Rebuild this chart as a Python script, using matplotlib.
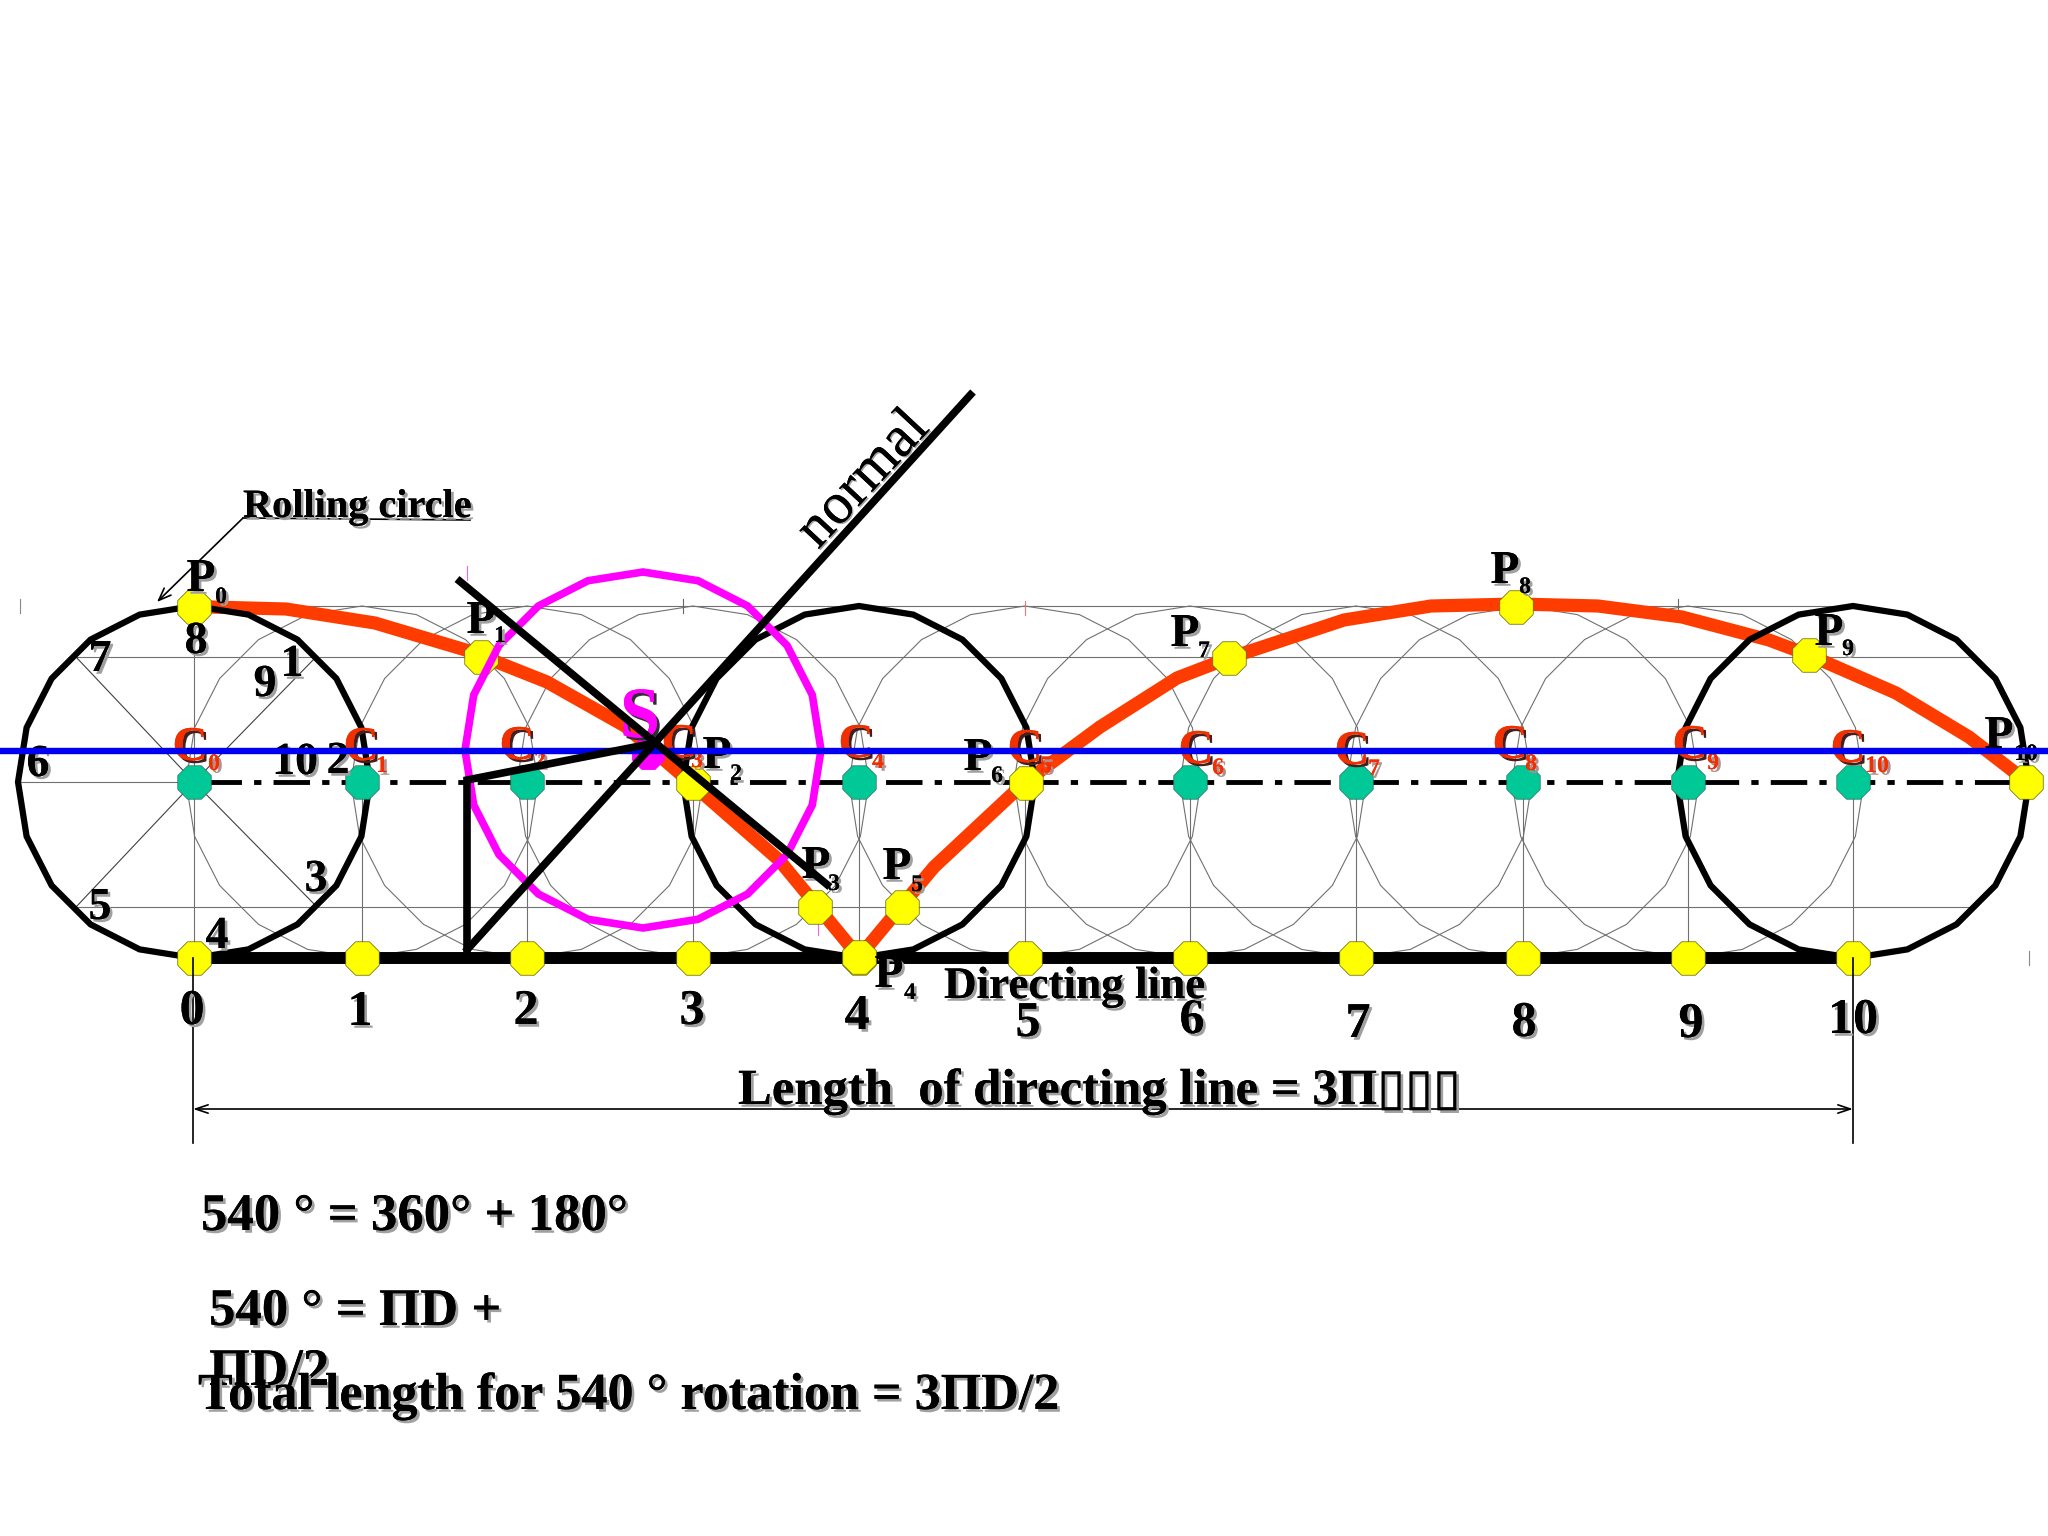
import matplotlib
matplotlib.use("Agg")
import matplotlib.pyplot as plt
from matplotlib.patches import RegularPolygon
import matplotlib.patheffects as pe

plt.rcParams['font.family'] = ['Liberation Serif', 'DejaVu Sans']

# positions along the directing line, page units
stations = [194, 362, 527, 693, 859, 1025, 1190, 1356, 1523, 1688, 1853]
centre_y = 782
line_y = 958
top_y = 606
radius = 176
bold_circles = [0, 4, 10]
green_dots = [0, 1, 2, 4, 6, 7, 8, 9, 10]

# the traced curve
curve_x = [210, 286, 375, 469, 547, 625, 691, 779, 859, 934, 1024, 1100, 1177, 1229,
           1344, 1431, 1517, 1598, 1682, 1769, 1809, 1896, 1969, 2026]
curve_y = [607, 609, 623, 651, 682, 726, 783, 860, 957, 867, 783, 727, 678, 658,
           620, 606, 604, 606, 617, 640, 655, 693, 737, 781]

# P0..P10
p_x = [194, 481, 693, 815, 859, 902, 1026, 1229, 1516, 1809, 2026]
p_y = [607, 657, 783, 907, 957, 907, 783, 658, 607, 655, 782]
p_label_x = [201, 481, 717, 816, 889, 897, 978, 1185, 1505, 1829, 1999]
p_label_y = [591, 633, 768, 878, 987, 879, 770, 646, 583, 645, 748]
p_sub_x = [221, 500, 736, 834, 910, 917, 997, 1204, 1525, 1848, 2026]
p_sub_y = [603, 642, 780, 890, 999, 891, 782, 657, 593, 655, 760]

# C0..C10
c_label_x = [190, 361, 517, 679, 856, 1025, 1196, 1352, 1510, 1690, 1848]
c_label_y = [760, 760, 759, 757, 757, 762, 763, 764, 758, 758, 762]
c_sub_x = [214, 382, 540, 697, 878, 1046, 1218, 1374, 1531, 1713, 1877]
c_sub_y = [770, 772, 767, 767, 768, 772, 774, 775, 770, 769, 772]

# numbers under the directing line
under_x = [192, 360, 526, 692, 857, 1028, 1192, 1358, 1524, 1691, 1853]
under_y = [1024, 1025, 1024, 1024, 1029, 1036, 1033, 1037, 1036, 1037, 1033]

# numbers round the first circle
ring_labels = ['8', '7', '1', '9', '6', '10', '2', '3', '5', '4']
ring_x = [196, 100, 292, 265, 38, 295, 338, 316, 100, 217]
ring_y = [653, 671, 676, 696, 776, 774, 773, 891, 919, 948]

# spoke ends on the first circle
spoke_x = [76, 316, 76, 317]
spoke_y = [657, 657, 907, 907]

# second position of the circle and construction lines
magenta_centre = (643, 750)
blue_y = 751
normal_x = [465, 973]
normal_y = [952, 392]
tangent_x = [457, 830]
tangent_y = [579, 887]
offset_x = [467, 467, 655]
offset_y = [952, 780, 743]

# small stray ticks
tick_x = [20, 467, 683, 1025, 1678, 2029, 818]
tick_y = [606, 573, 606, 608, 606, 958, 928]
tick_colors = ['#888888', '#ee66ee', '#666666', '#ee7777', '#666666', '#888888', '#ee66ee']


def label(ax, x, y, s, size=36, color='black', ha='left', shadow='#a0a0a0', z=6, **kw):
    # soft shadow below right, as on the slide
    fx = [pe.withSimplePatchShadow(offset=(2, -2), shadow_rgbFace=shadow, alpha=1.0), pe.Normal()]
    ax.text(x, y, s, fontsize=size, color=color, ha=ha, va='baseline', fontweight='bold',
            path_effects=fx, zorder=z, **kw)


fig = plt.figure(figsize=(20.48, 15.36), dpi=100)
ax = fig.add_axes([0, 0, 1, 1])
ax.set_xlim(0, 2048)
ax.set_ylim(1536, 0)
ax.axis('off')

thin = dict(color='#707070', lw=0.8, zorder=1)
ax.plot([stations[0], stations[-1]], [top_y, top_y], **thin)
ax.plot([76, 1969], [657, 657], **thin)
ax.plot([76, 1969], [907, 907], **thin)
ax.plot([19, stations[0]], [centre_y, centre_y], **thin)
ax.plot([stations[0], stations[0]], [top_y, centre_y], **thin)
for sx in stations:
    ax.plot([sx, sx], [centre_y, line_y], **thin)
for ex, ey in zip(spoke_x, spoke_y):
    ax.plot([stations[0], ex], [centre_y, ey], color='#404040', lw=0.8, zorder=1)

for i, sx in enumerate(stations):
    if i not in bold_circles:
        ax.add_patch(RegularPolygon((sx, centre_y), 20, radius=radius, fill=False,
                                    edgecolor='#707070', lw=0.8, zorder=1))

# centre line and directing line
ax.plot([205, 2030], [centre_y, centre_y], color='black', lw=3.5,
        linestyle=(0, (7.5, 2.5, 1.5, 2.5)), zorder=2)
ax.plot([stations[0], stations[-1]], [line_y, line_y], color='black', lw=8.6,
        solid_capstyle='butt', zorder=2)

ax.plot(curve_x, curve_y, color='#ff3c00', lw=9.5, solid_joinstyle='miter', zorder=3)

for i in bold_circles:
    ax.add_patch(RegularPolygon((stations[i], centre_y), 20, radius=radius, fill=False,
                                edgecolor='black', lw=4.5, zorder=3.5))

ax.scatter([stations[i] for i in green_dots], [centre_y] * len(green_dots), s=680, marker='8',
           color='#00c896', edgecolors='#307060', linewidths=0.5, zorder=4)
ax.scatter(stations, [line_y] * len(stations), s=680, marker='8',
           color='#ffff00', edgecolors='#606000', linewidths=0.5, zorder=4)
ax.scatter(p_x, p_y, s=680, marker='8', color='#ffff00', edgecolors='#606000',
           linewidths=0.5, zorder=4)

# circle at the point S
ax.add_patch(RegularPolygon(magenta_centre, 20, radius=178, fill=False,
                            edgecolor='#ff00ff', lw=5.5, zorder=5))
ax.scatter([648], [753], s=600, marker='8', color='#ff00ff', zorder=4.5)

# labels
for i in range(11):
    label(ax, p_label_x[i], p_label_y[i], 'P', size=34, ha='center')
    label(ax, p_sub_x[i], p_sub_y[i], str(i), size=17, ha='center')
    label(ax, c_label_x[i], c_label_y[i], 'C', size=35, color='#f03000', ha='center', shadow='#402020')
    label(ax, c_sub_x[i], c_sub_y[i], str(i), size=17, color='#f03000', ha='center', shadow='#b09090')
    label(ax, under_x[i], under_y[i], str(i), size=36, ha='center')
for s, x, y in zip(ring_labels, ring_x, ring_y):
    label(ax, x, y, s, size=33, ha='center')

label(ax, 640, 737, 'S', size=52, color='#ff00ff', ha='center', shadow='#303030')

label(ax, 243, 517, 'Rolling circle', size=29)
label(ax, 944, 998, 'Directing line', size=32.5)
label(ax, 738, 1104, 'Length  of directing line = 3\u03a0\u25af\u25af\u25af', size=36.5)
label(ax, 201, 1230, '540 \u00b0 = 360\u00b0 + 180\u00b0', size=38)
label(ax, 209, 1325, '540 \u00b0 = \u03a0D +', size=38)
label(ax, 209, 1385, '\u03a0D/2', size=38)
label(ax, 198, 1409, 'Total length for 540 \u00b0 rotation = 3\u03a0D/2', size=37.5)

ax.text(818, 550, 'normal', fontsize=42, rotation=47, rotation_mode='anchor', ha='left',
        va='baseline', color='black', zorder=6,
        path_effects=[pe.withSimplePatchShadow(offset=(1, -1), shadow_rgbFace='#a0a0a0', alpha=1.0), pe.Normal()])

# blue horizontal through S
ax.plot([0, 2048], [blue_y, blue_y], color='#0000f0', lw=4.6, zorder=7)

heavy = dict(color='black', lw=5.5, solid_capstyle='butt', zorder=8)
ax.plot(normal_x, normal_y, **heavy)
ax.plot(tangent_x, tangent_y, **heavy)
ax.plot(offset_x, offset_y, solid_joinstyle='miter', **heavy)

# leader for the rolling circle
ax.plot([243, 470], [518, 520], color='black', lw=1.2, zorder=5)
ax.annotate('', xy=(157, 602), xytext=(243, 518),
            arrowprops=dict(arrowstyle='->,head_length=0.9,head_width=0.35', color='black', lw=1.2,
                            shrinkA=0, shrinkB=0), zorder=5)

# dimension line
ax.plot([stations[0] - 1, stations[0] - 1], [line_y, 1143], color='black', lw=1.2, zorder=5)
ax.plot([stations[-1], stations[-1]], [line_y, 1143], color='black', lw=1.2, zorder=5)
ax.annotate('', xy=(stations[0] - 1, 1109), xytext=(stations[-1], 1109),
            arrowprops=dict(arrowstyle='<->,head_length=0.9,head_width=0.3', color='black', lw=1.2,
                            shrinkA=0, shrinkB=0), zorder=5)

for x, y, c in zip(tick_x, tick_y, tick_colors):
    ax.plot([x, x], [y - 7, y + 7], color=c, lw=0.8, zorder=1)

fig.savefig("out.png", dpi=100, facecolor='white')
